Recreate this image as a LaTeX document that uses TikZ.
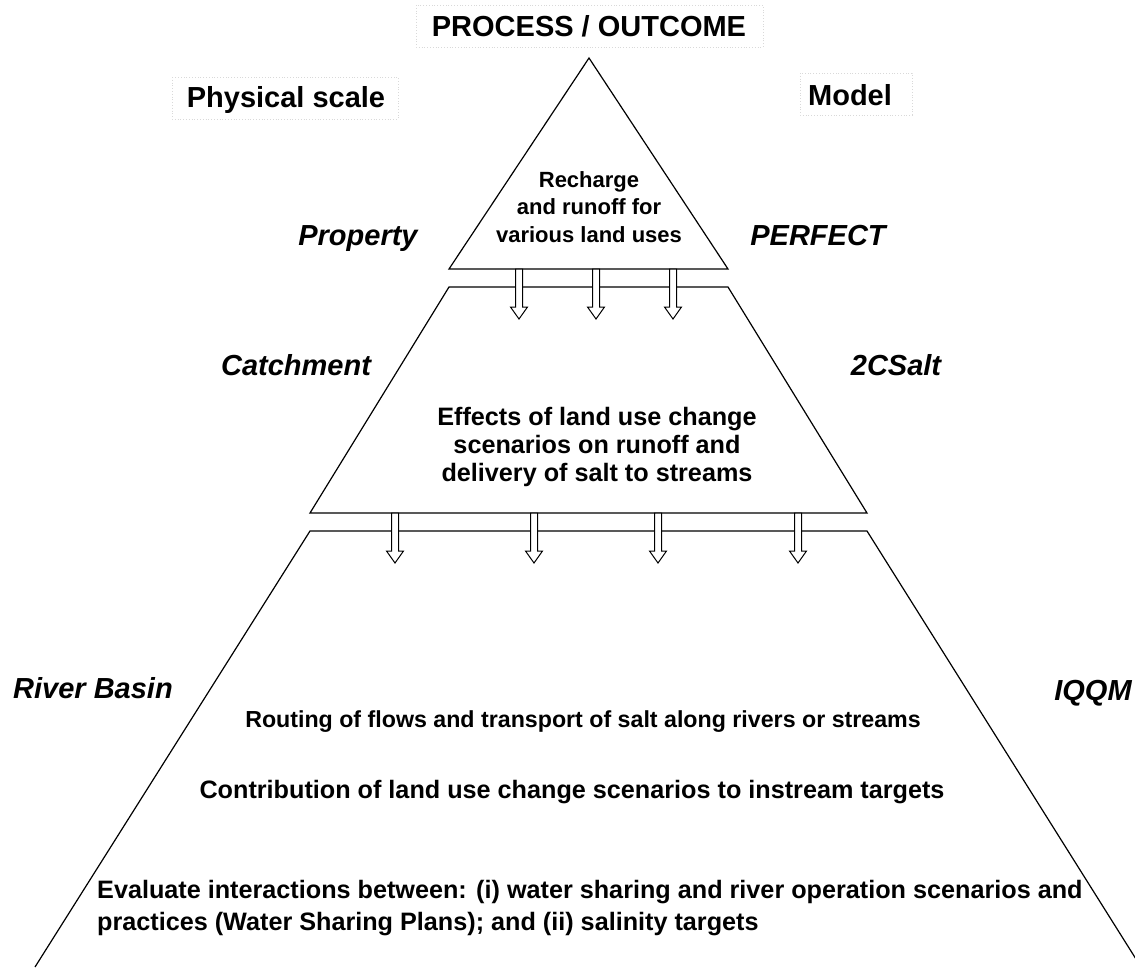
\documentclass[tikz,border=0pt]{standalone}
\usepackage{fontspec}
\setmainfont{Liberation Sans}
\tikzset{
  tier/.style={draw, line width=1.2pt, line join=miter},
  headlabel/.style={font=\fontsize{29}{34}\selectfont\bfseries, anchor=base, inner sep=0pt},
  sidelabel/.style={font=\fontsize{29}{34}\selectfont\bfseries\itshape, anchor=base, inner sep=0pt},
  bodytext/.style={font=\fontsize{22}{27.5}\selectfont\bfseries, align=center, inner sep=0pt},
  bigtext/.style={bodytext, font=\fontsize{25.2}{28}\selectfont\bfseries},
  dotbox/.style={draw=gray!30, dotted, line width=0.8pt},
  flowarrow/.style={draw, fill=white, line width=1pt}
}
\newcommand{\flowdown}[2]{\draw[flowarrow] (#1-3.5,#2) -- (#1-3.5,#2+38) -- (#1-8.5,#2+38) -- (#1,#2+50) -- (#1+8.5,#2+38) -- (#1+3.5,#2+38) -- (#1+3.5,#2) -- cycle;}

\begin{document}
\begin{tikzpicture}[x=1pt,y=-1pt]
\useasboundingbox (0,0) rectangle (1135,967);

\draw[dotbox] (416,5) rectangle (763,47);
\draw[dotbox] (172,77) rectangle (398,119);
\draw[dotbox] (800,73) rectangle (912,115);

\node[headlabel] (outcome) at (589,36) {PROCESS / OUTCOME};
\node[headlabel] (scale) at (286,107) {Physical scale};
\node[headlabel] (model) at (850,105) {Model};

\draw[tier] (589,58) -- (449,269) -- (728,269) -- cycle;
\draw[tier] (310,513) -- (449,287) -- (728,287) -- (867,513) -- cycle;
\draw[tier] (35,967) -- (310,531) -- (867,531) -- (1141,967);

\flowdown{519}{269}
\flowdown{596}{269}
\flowdown{673}{269}

\flowdown{395}{513}
\flowdown{534}{513}
\flowdown{658}{513}
\flowdown{798}{513}

\node[sidelabel] (property) at (358,245) {Property};
\node[sidelabel] (perfect) at (818,245) {PERFECT};
\node[sidelabel] (catchment) at (296,375) {Catchment};
\node[sidelabel] (csalt) at (896,375) {2CSalt};
\node[sidelabel] (basin) at (93,698) {River Basin};
\node[sidelabel] (iqqm) at (1093,700) {IQQM};

\node[bodytext] (recharge) at (589,207) {Recharge\\and runoff for\\various land uses};
\node[bigtext] (effects) at (597,447) {Effects of land use change\\scenarios on runoff and\\delivery of salt to streams};
\node[bodytext, font=\fontsize{23.2}{28}\selectfont\bfseries, anchor=base] (routing) at (583,727) {Routing of flows and transport of salt along rivers or streams};
\node[bigtext, anchor=base] (contrib) at (572,798) {Contribution of land use change scenarios to instream targets};
\node[bigtext, anchor=base west, align=left] (evaluate) at (97,898) {Evaluate interactions between: (i) water sharing and river operation scenarios and};
\node[bigtext, anchor=base west, align=left] (practices) at (97,930) {practices (Water Sharing Plans); and (ii) salinity targets};
\end{tikzpicture}
\end{document}
